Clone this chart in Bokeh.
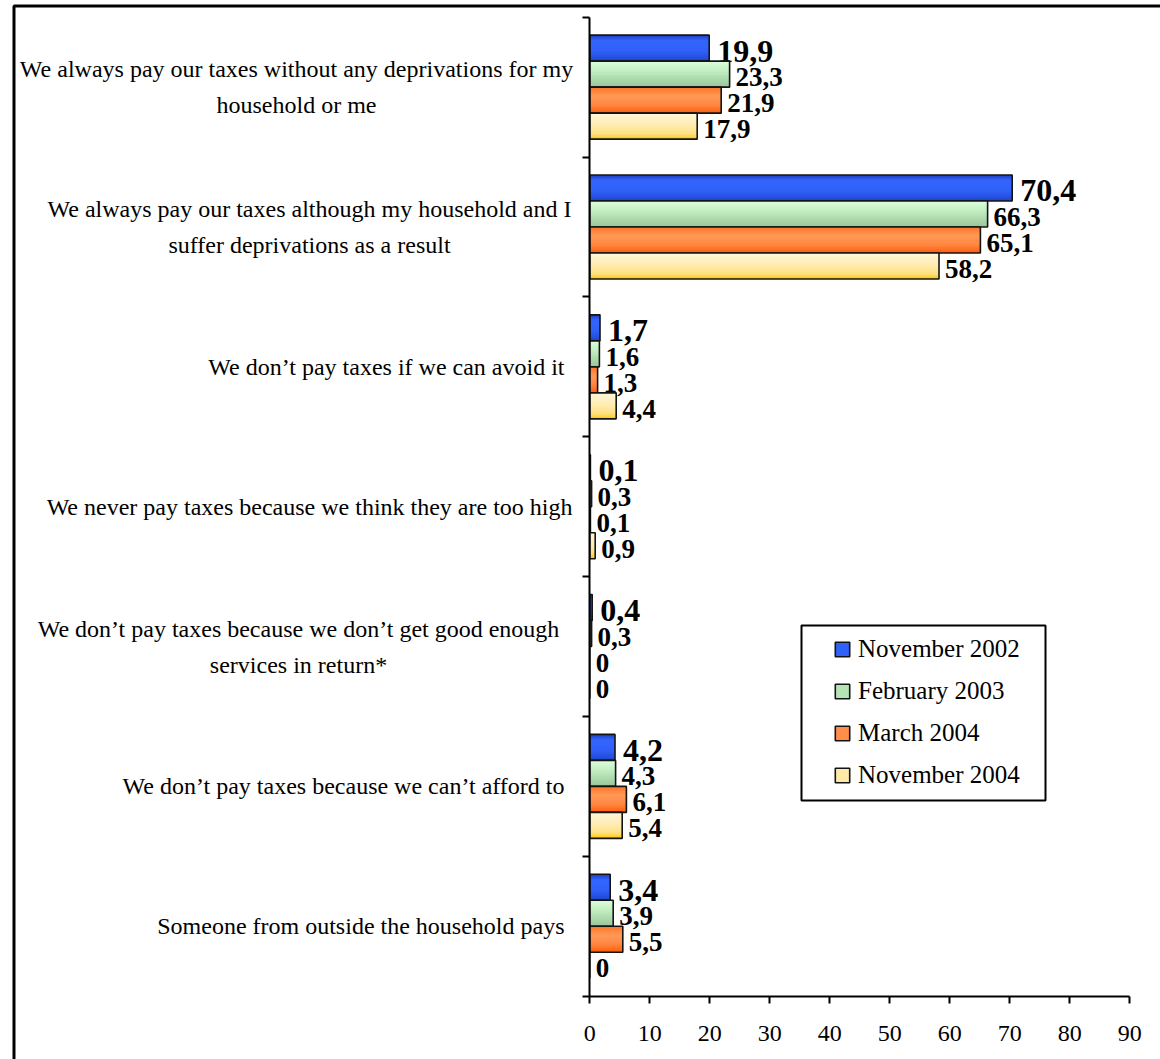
import numpy as np
from bokeh.plotting import figure
from bokeh.models import (ColumnDataSource, Range1d, FixedTicker, Label, Legend,
                          LegendItem, BoxAnnotation)
from bokeh.core.properties import value
from bokeh.embed import file_html
from bokeh.resources import INLINE

# ---- data -----------------------------------------------------------------
categories = [
    "We always pay our taxes without any deprivations for my\nhousehold or me",
    "We always pay our taxes although my household and I\nsuffer deprivations as a result",
    "We don\u2019t pay taxes if we can avoid it",
    "We never pay taxes because we think they are too high",
    "We don\u2019t pay taxes because we don\u2019t get good enough\nservices in return*",
    "We don\u2019t pay taxes because we can\u2019t afford to",
    "Someone from outside the household pays",
]
series_names = ["November 2002", "February 2003", "March 2004", "November 2004"]
nov_2002 = [19.9, 70.4, 1.7, 0.1, 0.4, 4.2, 3.4]
feb_2003 = [23.3, 66.3, 1.6, 0.3, 0.3, 4.3, 3.9]
mar_2004 = [21.9, 65.1, 1.3, 0.1, 0.0, 6.1, 5.5]
nov_2004 = [17.9, 58.2, 4.4, 0.9, 0.0, 5.4, 0.0]
x_ticks = [0, 10, 20, 30, 40, 50, 60, 70, 80, 90]

series_values = [nov_2002, feb_2003, mar_2004, nov_2004]

# ---- layout / styling -------------------------------------------------------
FONT = "Liberation Serif"
W, H = 1160, 1059
X0_PX, X90_PX = 589.3, 1129.3       # where 0 and 90 sit on the canvas
Y_TOP_PX, Y_BOT_PX = 16.7, 995.7    # top and bottom of the category axis
N_CAT = len(categories)
PX_X = (X90_PX - X0_PX) / 90.0
PX_Y = (Y_BOT_PX - Y_TOP_PX) / float(N_CAT)


def dx(px):
    return (px - X0_PX) / PX_X


def dy(py):
    return N_CAT - (py - Y_TOP_PX) / PX_Y


BAR_H = 26.0 / PX_Y        # thickness of one bar in category units
N_STRIPS = 12              # bands used to shade each bar

# colour stops from the top edge to the bottom edge of a bar
gradients = [
    [(0.0, "#1d3fc4"), (0.22, "#3366ff"), (0.65, "#2f5ff6"), (1.0, "#1e44cc")],
    [(0.0, "#dcffdc"), (0.35, "#c4f0c4"), (1.0, "#98c698")],
    [(0.0, "#ff7428"), (0.35, "#ff9a58"), (0.7, "#ff8540"), (1.0, "#ff5c08")],
    [(0.0, "#fff7d8"), (0.45, "#ffecb4"), (0.8, "#ffe080"), (1.0, "#ffc800")],
]
label_sizes = ["32px", "27px", "27px", "27px"]
label_shift = [8, 6, 6, 6]


def hex_rgb(h):
    h = h.lstrip("#")
    return np.array([int(h[i:i + 2], 16) for i in (0, 2, 4)], dtype=float)


def shade(stops, t):
    for (t0, c0), (t1, c1) in zip(stops[:-1], stops[1:]):
        if t0 <= t <= t1:
            f = (t - t0) / (t1 - t0) if t1 > t0 else 0.0
            rgb = hex_rgb(c0) * (1 - f) + hex_rgb(c1) * f
            return "#%02x%02x%02x" % tuple(int(round(v)) for v in rgb)
    return stops[-1][1]


def fmt(v):
    return "0" if v == 0 else f"{v:.1f}".replace(".", ",")


# the plotting frame covers the whole canvas; axes are pinned inside it
p = figure(width=W, height=H,
           x_range=Range1d(dx(0), dx(W)), y_range=Range1d(dy(H), dy(0)),
           output_backend="svg", toolbar_location=None,
           min_border_left=0, min_border_right=0,
           min_border_top=0, min_border_bottom=0)
p.outline_line_color = None
p.grid.visible = False
p.background_fill_color = "white"
p.border_fill_color = "white"

cat_y = [N_CAT - i - 0.5 for i in range(N_CAT)]

strip_renderers, outline_renderers = [], []
band = BAR_H / N_STRIPS
for s, vals in enumerate(series_values):
    yc = [c + (1.5 - s) * BAR_H for c in cat_y]
    ys, hs, rights, colors = [], [], [], []
    for j in range(N_CAT):
        top = yc[j] + BAR_H / 2
        for k in range(N_STRIPS):
            # each band runs from its upper edge down to the bar's bottom,
            # so later bands cover earlier ones without leaving seams
            h = BAR_H - k * band
            ys.append(top - k * band - h / 2)
            hs.append(h)
            rights.append(vals[j])
            colors.append(shade(gradients[s], (k + 0.5) / N_STRIPS))
    src = ColumnDataSource(dict(y=ys, h=hs, right=rights, color=colors))
    r = p.hbar(y="y", left=0, right="right", height="h",
               fill_color="color", line_color=None, source=src)
    strip_renderers.append(r)

    osrc = ColumnDataSource(dict(y=yc, right=vals, text=[fmt(v) for v in vals]))
    o = p.hbar(y="y", left=0, right="right", height=BAR_H, fill_alpha=0,
               line_color="#141414", line_width=1.6, source=osrc)
    outline_renderers.append(o)

    p.text(x="right", y="y", text="text", source=osrc, x_offset=label_shift[s],
           y_offset=3, text_align="left", text_baseline="middle",
           text_font=value(FONT), text_font_style="bold",
           text_font_size=label_sizes[s], text_color="black")

# category labels beside the value axis
label_anchor = [("center", 296), ("center", 309), ("right", 564), ("right", 572),
                ("center", 298), ("right", 564), ("right", 564)]
line_gap = 36.0 / PX_Y
for i, cat in enumerate(categories):
    lines = cat.split("\n")
    align, ax = label_anchor[i]
    for li, line in enumerate(lines):
        off = ((len(lines) - 1) / 2.0 - li) * line_gap
        p.add_layout(Label(x=dx(ax), y=cat_y[i] + off,
                           text=line, text_align=align, text_baseline="middle",
                           text_font=FONT, text_font_size="24px",
                           text_color="black"))

# axes pinned at x = 0 and y = 0
p.xaxis.fixed_location = 0
p.xaxis.bounds = (0, 90)
p.xaxis.ticker = FixedTicker(ticks=x_ticks)
p.xaxis.axis_line_width = 2
p.xaxis.major_tick_line_width = 2
p.xaxis.major_tick_out = 7
p.xaxis.major_tick_in = 0
p.xaxis.minor_tick_line_color = None
p.xaxis.major_label_text_font = FONT
p.xaxis.major_label_text_font_size = "24px"
p.xaxis.major_label_text_color = "black"
p.xaxis.major_label_standoff = 23

p.yaxis.fixed_location = 0
p.yaxis.bounds = (0, N_CAT)
p.yaxis.ticker = FixedTicker(ticks=list(range(N_CAT + 1)))
p.yaxis.major_label_overrides = {i: "" for i in range(N_CAT + 1)}
p.yaxis.axis_line_width = 2
p.yaxis.major_tick_line_width = 2
p.yaxis.major_tick_out = 7
p.yaxis.major_tick_in = 0
p.yaxis.minor_tick_line_color = None

# legend
mid = N_STRIPS // 2
items = [LegendItem(label=name, renderers=[strip_renderers[s], outline_renderers[s]],
                    index=mid)
         for s, name in enumerate(series_names)]
legend = Legend(items=items, location=(833, H - 796),
                padding=0, spacing=0, margin=0, glyph_width=18, glyph_height=18,
                label_height=42, label_standoff=7, border_line_alpha=0,
                background_fill_alpha=0, label_text_font=FONT,
                label_text_font_size="25px", label_text_color="black")
p.add_layout(legend)

p.add_layout(BoxAnnotation(left=dx(801), right=dx(1045), top=dy(625), bottom=dy(800),
                           fill_alpha=0, line_color="black", line_alpha=1.0,
                           line_width=2))

# outer chart border (runs off the right and bottom edges)
p.add_layout(BoxAnnotation(left=dx(13.5), right=dx(W + 40), top=dy(5.5), bottom=dy(H + 40),
                           fill_alpha=0, line_color="black", line_alpha=1.0,
                           line_width=3))

open("out.html", "w").write(file_html(p, INLINE))
